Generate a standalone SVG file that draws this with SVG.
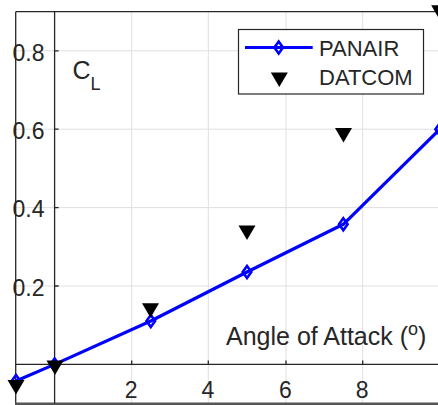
<svg xmlns="http://www.w3.org/2000/svg" width="438" height="405" viewBox="0 0 438 405">
  <style>
    .grid { stroke: #dfdfdf; stroke-width: 1; fill: none; }
    .axis { stroke: #262626; stroke-width: 1.3; fill: none; }
    .txt { font-family: "Liberation Sans", Arial, Helvetica, sans-serif; fill: #262626; }
    .tick { font-size: 23px; }
    .panair { stroke: #0000ff; stroke-width: 3.2; fill: none; stroke-linejoin: round; }
    .dmd { stroke: #0000ff; stroke-width: 2.6; fill: none; }
    .tri { fill: #000000; }
  </style>
  <defs>
    <path id="dmd" class="dmd" d="M0,-6 L4.3,0 L0,6 L-4.3,0 Z"/>
    <path id="tri" class="tri" d="M-8.5,-7 L8.5,-7 L0,7.5 Z"/>
  </defs>

  <rect width="438" height="405" fill="#ffffff"/>

  <!-- grid -->
  <g id="grid" class="grid">
    <line x1="131.7" y1="11.7" x2="131.7" y2="403.5"/>
    <line x1="208.3" y1="11.7" x2="208.3" y2="403.5"/>
    <line x1="286" y1="11.7" x2="286" y2="403.5"/>
    <line x1="362.7" y1="11.7" x2="362.7" y2="403.5"/>
    <line x1="15.7" y1="50.8" x2="438" y2="50.8"/>
    <line x1="15.7" y1="129.2" x2="438" y2="129.2"/>
    <line x1="15.7" y1="207.6" x2="438" y2="207.6"/>
    <line x1="15.7" y1="286" x2="438" y2="286"/>
  </g>

  <!-- tick labels -->
  <g id="yticks" class="txt tick" text-anchor="end">
    <text x="44.5" y="60.5">0.8</text>
    <text x="44.5" y="138.9">0.6</text>
    <text x="44.5" y="217.3">0.4</text>
    <text x="44.5" y="295.7">0.2</text>
  </g>
  <g id="xticks" class="txt tick" text-anchor="middle">
    <text x="131.2" y="398">2</text>
    <text x="207.8" y="398">4</text>
    <text x="285.5" y="398">6</text>
    <text x="362.2" y="398">8</text>
  </g>

  <!-- axes frame and origin axes -->
  <g id="axes" class="axis">
    <line x1="15.7" y1="11.7" x2="438" y2="11.7"/>
    <line x1="15.7" y1="11.7" x2="15.7" y2="403.5"/>
    <line x1="15" y1="403.8" x2="438" y2="403.8" stroke="#555555" stroke-width="2.4"/>
    <line x1="54.6" y1="11.7" x2="54.6" y2="403.5"/>
    <line x1="15.7" y1="364.4" x2="438" y2="364.4"/>
    <!-- y ticks -->
    <path d="M54.6,50.8 h4 M54.6,129.2 h4 M54.6,207.6 h4 M54.6,286 h4"/>
    <!-- x ticks -->
    <path d="M131.7,364.4 v-4 M208.3,364.4 v-4 M286,364.4 v-4 M362.7,364.4 v-4"/>
  </g>

  <!-- axis labels -->
  <g id="ylabel" class="txt">
    <text x="72.5" y="78.5" font-size="25">C<tspan font-size="18" dy="11">L</tspan></text>
  </g>
  <g id="xlabel" class="txt">
    <text x="226" y="344.5" font-size="25">Angle of Attack (<tspan font-size="18" dy="-10">o</tspan><tspan dy="10">)</tspan></text>
  </g>

  <!-- PANAIR series -->
  <g id="series-panair">
    <polyline class="panair" points="16,381 54.6,364.4 150.8,321 247,272 343.3,224.3 439.7,129.3"/>
    <use href="#dmd" x="16" y="381"/>
    <use href="#dmd" x="54.6" y="364.4"/>
    <use href="#dmd" x="150.8" y="321"/>
    <use href="#dmd" x="247" y="272"/>
    <use href="#dmd" x="343.3" y="224.3"/>
    <use href="#dmd" x="439.7" y="129.3"/>
  </g>

  <!-- DATCOM series -->
  <g id="series-datcom">
    <use href="#tri" x="16" y="387"/>
    <use href="#tri" x="55" y="367.5"/>
    <use href="#tri" x="150.5" y="310.3"/>
    <use href="#tri" x="247" y="232.5"/>
    <use href="#tri" x="343.5" y="135"/>
    <use href="#tri" x="439.7" y="12.3"/>
  </g>

  <!-- legend -->
  <g id="legend">
    <rect x="238.5" y="29.5" width="185" height="64.5" fill="#ffffff" stroke="#262626" stroke-width="1.2"/>
    <line class="panair" x1="245" y1="47.5" x2="312.7" y2="47.5"/>
    <use href="#dmd" x="278.7" y="47.5"/>
    <use href="#tri" x="279.3" y="79.5"/>
    <text class="txt" x="319" y="56" font-size="22" fill="#000">PANAIR</text>
    <text class="txt" x="319" y="85" font-size="22" fill="#000">DATCOM</text>
  </g>
</svg>
